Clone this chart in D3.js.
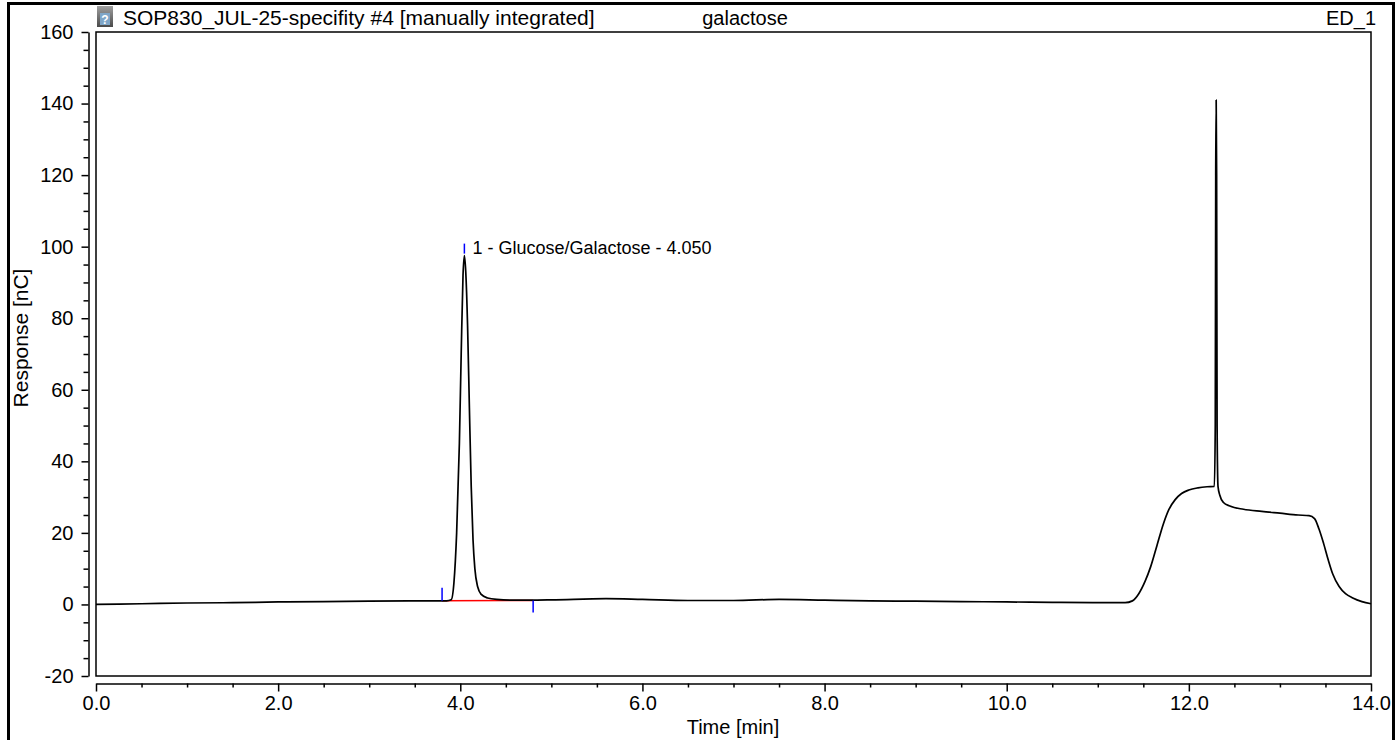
<!DOCTYPE html>
<html>
<head>
<meta charset="utf-8">
<script src="https://cdn.jsdelivr.net/npm/d3@7"></script>
<style>
  body { margin: 0; background: #fff; }
  text { font-family: 'Liberation Sans', Arial, sans-serif; fill: #000; }
</style>
</head>
<body>
<svg id="chart" width="1398" height="740"></svg>
<script>
// trace points: time [min], response [nC]
const traceTime = [
  0.0, 0.5, 1.0, 1.5, 2.0, 2.5, 3.0, 3.5, 3.8, 3.85, 3.9, 3.93, 3.96, 3.99, 4.01, 4.03, 4.045,
  4.06, 4.08, 4.1, 4.12, 4.14, 4.16, 4.19, 4.23, 4.3, 4.4, 4.6, 5.0, 5.6, 6.0, 6.5, 7.0, 7.5,
  8.0, 8.5, 9.0, 9.5, 10.0, 10.5, 11.0, 11.3, 11.38, 11.45, 11.52, 11.58, 11.65, 11.72, 11.78,
  11.85, 11.92, 12.0, 12.1, 12.2, 12.28, 12.29, 12.295, 12.3, 12.305, 12.31, 12.32, 12.34, 12.38,
  12.45, 12.6, 12.8, 13.0, 13.2, 13.32, 13.38, 13.43, 13.48, 13.53, 13.58, 13.65, 13.72, 13.8,
  13.9, 14.0
];
const traceResponse = [
  0.0, 0.2, 0.4, 0.5, 0.7, 0.8, 0.9, 1.0, 1.0, 1.0, 1.3, 6, 20, 45, 70, 92, 97.5,
  93, 78, 55, 33, 18, 10, 5, 2.8, 1.8, 1.4, 1.2, 1.3, 1.6, 1.4, 1.1, 1.1, 1.4,
  1.2, 1.0, 0.9, 0.8, 0.7, 0.6, 0.5, 0.5, 1.0, 3.0, 6.5, 10.5, 16.5, 22.5, 26.5,
  29.3, 31, 32, 32.6, 32.9, 33.0, 50, 120, 141, 120, 50, 33, 30.5, 28.5,
  27.5, 26.6, 26.0, 25.5, 25.0, 24.8, 24, 21, 17, 12.5, 8.5, 5, 3, 1.8,
  0.8, 0.2
];

// integrated peak
const peakName = '1 - Glucose/Galactose - 4.050';
const peakApex = [4.045, 97.5];
const peakStart = [3.8, 1.0];
const peakEnd = [4.8, 1.1];

const titleLeft = 'SOP830_JUL-25-specifity #4 [manually integrated]';
const titleMid = 'galactose';
const titleRight = 'ED_1';

const xMajor = [0, 2, 4, 6, 8, 10, 12, 14];
const xMinor = [0.5, 1, 1.5, 2.5, 3, 3.5, 4.5, 5, 5.5, 6.5, 7, 7.5, 8.5, 9, 9.5, 10.5, 11, 11.5, 12.5, 13, 13.5];
const yMajor = [-20, 0, 20, 40, 60, 80, 100, 120, 140, 160];
const yMinor = [-15, -10, -5, 5, 10, 15, 25, 30, 35, 45, 50, 55, 65, 70, 75, 85, 90, 95, 105, 110, 115, 125, 130, 135, 145, 150, 155];

const width = 1398, height = 740;
const plotLeft = 96, plotRight = 1371, plotTop = 32, plotBottom = 676;
const fontFamily = "'Liberation Sans', Arial, sans-serif";

const svg = d3.select('#chart');
svg.append('rect').attr('width', width).attr('height', height).attr('fill', '#fff');

// outer frame
svg.append('rect')
  .attr('x', 8.5).attr('y', 3.5)
  .attr('width', 1385).attr('height', 760)
  .attr('fill', 'none').attr('stroke', '#000').attr('stroke-width', 3);

const x = d3.scaleLinear().domain([0, 14]).range([plotLeft, plotRight]);
const y = d3.scaleLinear().domain([-20, 160]).range([plotBottom, plotTop]);

// header icon
const icon = svg.append('g').attr('transform', 'translate(97,6)');
const grad = svg.append('defs').append('linearGradient').attr('id', 'ig').attr('x1', 0).attr('x2', 0).attr('y1', 0).attr('y2', 1);
grad.append('stop').attr('offset', '0%').attr('stop-color', '#a0a0a0');
grad.append('stop').attr('offset', '100%').attr('stop-color', '#4a4a4a');
icon.append('rect').attr('width', 16).attr('height', 21).attr('fill', 'url(#ig)');
icon.append('rect').attr('x', 3).attr('y', 7).attr('width', 10).attr('height', 12).attr('fill', '#7fa6c8');
icon.append('text').attr('x', 8).attr('y', 17.5).attr('text-anchor', 'middle')
  .style('font-size', '12px').style('font-weight', 'bold').style('fill', '#fff').text('?');

svg.append('text').attr('x', 123).attr('y', 25).style('font-size', '21px').text(titleLeft);
svg.append('text').attr('x', 745).attr('y', 25).attr('text-anchor', 'middle').style('font-size', '20px').text(titleMid);
svg.append('text').attr('x', 1376).attr('y', 25).attr('text-anchor', 'end').style('font-size', '20px').text(titleRight);

// plot frame
svg.append('rect')
  .attr('x', plotLeft).attr('y', plotTop)
  .attr('width', plotRight - plotLeft).attr('height', plotBottom - plotTop)
  .attr('fill', 'none').attr('stroke', '#000').attr('stroke-width', 1.5);

// y axis, set off to the left of the frame
const yAxisX = 88.5;
const yAxisG = svg.append('g').attr('transform', `translate(${yAxisX},0)`);
yAxisG.call(d3.axisLeft(y).tickValues(yMajor).tickSize(7).tickPadding(8).tickSizeOuter(0).tickFormat(d => String(d)));
yAxisG.append('g').call(d3.axisLeft(y).tickValues(yMinor).tickSize(5).tickFormat('').tickSizeOuter(0))
  .select('.domain').remove();
yAxisG.selectAll('text').style('font-size', '20px').style('font-family', fontFamily);
yAxisG.selectAll('path, line').attr('stroke', '#000').attr('stroke-width', 1.5);

// x axis, set off below the frame
const xAxisY = 683.5;
const xAxisG = svg.append('g').attr('transform', `translate(0,${xAxisY})`);
xAxisG.call(d3.axisBottom(x).tickValues(xMajor).tickSize(8).tickPadding(4).tickSizeOuter(0).tickFormat(d3.format('.1f')));
xAxisG.append('g').call(d3.axisBottom(x).tickValues(xMinor).tickSize(4).tickFormat('').tickSizeOuter(0))
  .select('.domain').remove();
xAxisG.selectAll('text').style('font-size', '20px').style('font-family', fontFamily);
xAxisG.selectAll('path, line').attr('stroke', '#000').attr('stroke-width', 1.5);

svg.append('text')
  .attr('transform', `translate(28,${(plotTop + plotBottom) / 2 - 16}) rotate(-90)`)
  .attr('text-anchor', 'middle').style('font-size', '21px').text('Response [nC]');
svg.append('text')
  .attr('x', 733).attr('y', 734)
  .attr('text-anchor', 'middle').style('font-size', '20px').text('Time [min]');

// integration baseline and markers
const plot = svg.append('g');
plot.append('line')
  .attr('x1', x(peakStart[0])).attr('y1', y(peakStart[1]))
  .attr('x2', x(peakEnd[0])).attr('y2', y(peakEnd[1]))
  .attr('stroke', '#ff0000').attr('stroke-width', 1.5);

// trace
const trace = traceTime.map((t, i) => [t, traceResponse[i]]);
plot.append('path')
  .datum(trace)
  .attr('fill', 'none')
  .attr('stroke', '#000')
  .attr('stroke-width', 1.7)
  .attr('stroke-linejoin', 'round')
  .attr('d', d3.line().x(d => x(d[0])).y(d => y(d[1])).curve(d3.curveMonotoneX));

plot.append('line')
  .attr('x1', x(peakStart[0])).attr('x2', x(peakStart[0]))
  .attr('y1', y(peakStart[1])).attr('y2', y(peakStart[1]) - 13)
  .attr('stroke', '#0000ff').attr('stroke-width', 1.5);
plot.append('line')
  .attr('x1', x(peakEnd[0])).attr('x2', x(peakEnd[0]))
  .attr('y1', y(peakEnd[1])).attr('y2', y(peakEnd[1]) + 12)
  .attr('stroke', '#0000ff').attr('stroke-width', 1.5);
plot.append('line')
  .attr('x1', x(peakApex[0])).attr('x2', x(peakApex[0]))
  .attr('y1', y(peakApex[1]) - 2).attr('y2', y(peakApex[1]) - 12)
  .attr('stroke', '#0000ff').attr('stroke-width', 1.5);
plot.append('text')
  .attr('x', x(peakApex[0]) + 8).attr('y', y(peakApex[1]) - 2)
  .style('font-size', '18px').text(peakName);
</script>
</body>
</html>
